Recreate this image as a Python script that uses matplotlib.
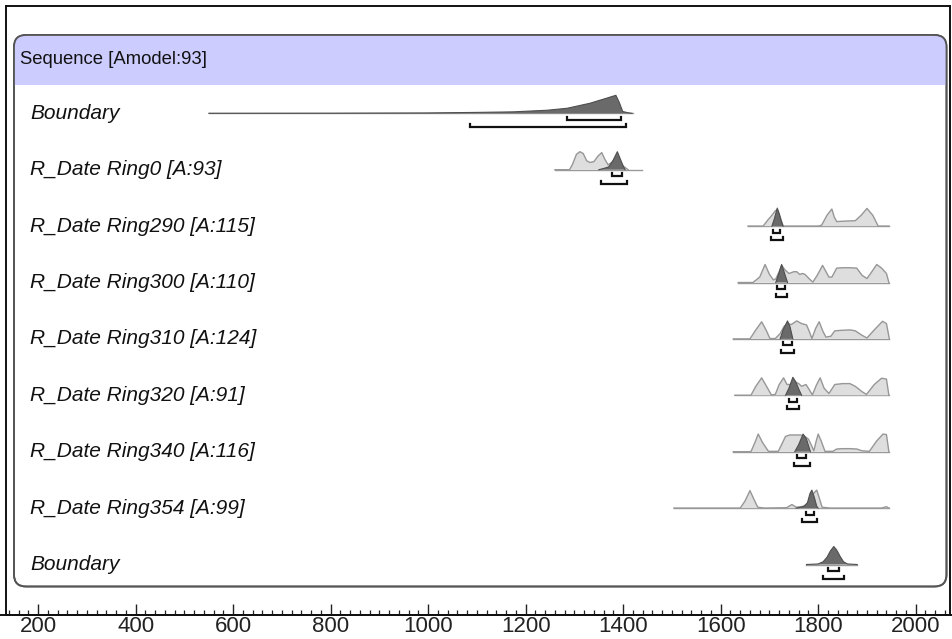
import matplotlib
matplotlib.use("Agg")
import matplotlib.pyplot as plt
from matplotlib.patches import FancyBboxPatch, Rectangle

# ---------------- data ----------------
header_text = "Sequence [Amodel:93]"
row_labels = ["Boundary", "R_Date Ring0 [A:93]", "R_Date Ring290 [A:115]",
              "R_Date Ring300 [A:110]", "R_Date Ring310 [A:124]",
              "R_Date Ring320 [A:91]", "R_Date Ring340 [A:116]",
              "R_Date Ring354 [A:99]", "Boundary"]

# baseline extents (years)
baseline_span = [(550, 1420), (1260, 1438), (1656, 1945), (1636, 1945),
                 (1626, 1946), (1629, 1945), (1626, 1945), (1504, 1945),
                 (1776, 1880)]

# light (unmodelled) distributions: years, relative heights
light_years = [
    None,
    [1260, 1290, 1296, 1304, 1311, 1318, 1325, 1332, 1340, 1348, 1356, 1362, 1369, 1376, 1385, 1393, 1400, 1410],
    [1656, 1687, 1697, 1705, 1712, 1716, 1722, 1728, 1800, 1807, 1818, 1828, 1833, 1838, 1856, 1876, 1888, 1900, 1912, 1923, 1945],
    [1636, 1666, 1680, 1691, 1700, 1708, 1713, 1720, 1725, 1732, 1740, 1750, 1756, 1762, 1768, 1773, 1780, 1789, 1798, 1809, 1816, 1822, 1828, 1838, 1850, 1865, 1879, 1890, 1900, 1910, 1920, 1930, 1940, 1945],
    [1626, 1660, 1672, 1684, 1693, 1701, 1712, 1722, 1730, 1737, 1745, 1756, 1766, 1776, 1782, 1787, 1795, 1802, 1810, 1816, 1826, 1834, 1850, 1865, 1876, 1890, 1900, 1915, 1932, 1940, 1946],
    [1629, 1662, 1672, 1684, 1694, 1704, 1712, 1720, 1729, 1736, 1742, 1752, 1760, 1766, 1775, 1782, 1788, 1796, 1804, 1812, 1822, 1834, 1850, 1865, 1876, 1890, 1899, 1915, 1930, 1940, 1945],
    [1626, 1662, 1670, 1677, 1686, 1698, 1718, 1725, 1733, 1742, 1752, 1762, 1770, 1780, 1787, 1791, 1796, 1800, 1806, 1814, 1830, 1838, 1850, 1865, 1879, 1890, 1905, 1920, 1933, 1940, 1945],
    [1504, 1640, 1650, 1660, 1668, 1676, 1690, 1735, 1746, 1755, 1770, 1780, 1790, 1797, 1803, 1808, 1825, 1930, 1940, 1945],
    None,
]
light_heights = [
    None,
    [0, 0, 0.3, 0.85, 1.0, 0.9, 0.5, 0.4, 0.45, 0.75, 0.95, 0.6, 0.27, 0.4, 0.65, 0.45, 0.2, 0],
    [0, 0, 0.35, 0.6, 0.85, 0.9, 0.5, 0, 0, 0.05, 0.6, 0.95, 0.5, 0.25, 0.28, 0.3, 0.6, 0.98, 0.6, 0, 0],
    [0, 0, 0.3, 1.0, 0.45, 0.15, 0.2, 0.6, 0.95, 0.7, 0.5, 0.6, 0.6, 0.45, 0.5, 0.45, 0.25, 0.02, 0.4, 0.95, 0.6, 0.3, 0.3, 0.8, 0.82, 0.82, 0.8, 0.4, 0.22, 0.6, 1.0, 0.8, 0.5, 0],
    [0, 0, 0.5, 0.95, 0.5, 0.02, 0.02, 0.3, 0.7, 0.85, 0.8, 1.0, 0.85, 0.78, 0.4, 0.02, 0.6, 0.95, 0.4, 0.1, 0.15, 0.45, 0.48, 0.5, 0.45, 0.2, 0.05, 0.5, 0.98, 0.85, 0],
    [0, 0, 0.5, 0.97, 0.5, 0.02, 0.05, 0.6, 0.97, 0.6, 0.6, 0.75, 0.65, 0.5, 0.6, 0.3, 0.02, 0.55, 0.97, 0.4, 0.1, 0.6, 0.65, 0.65, 0.5, 0.2, 0.05, 0.6, 0.95, 0.9, 0],
    [0, 0, 0.5, 0.98, 0.5, 0.02, 0.02, 0.4, 0.85, 0.93, 0.93, 0.93, 0.9, 0.7, 0.3, 0.05, 0.6, 0.98, 0.6, 0.02, 0.02, 0.15, 0.17, 0.17, 0.15, 0.05, 0.02, 0.6, 0.98, 0.95, 0],
    [0, 0, 0.4, 0.97, 0.5, 0.05, 0, 0.02, 0.2, 0.05, 0.1, 0.3, 0.8, 1.0, 0.5, 0.05, 0, 0, 0.08, 0],
    None,
]

# dark (modelled) distributions
dark_years = [
    [550, 800, 1000, 1100, 1174, 1244, 1285, 1297, 1332, 1366, 1385, 1392, 1399, 1410, 1418],
    [1350, 1360, 1370, 1378, 1388, 1394, 1400, 1404],
    [1705, 1710, 1716, 1720, 1724, 1728],
    [1713, 1718, 1725, 1730, 1737],
    [1722, 1728, 1737, 1742, 1748],
    [1733, 1740, 1748, 1754, 1760, 1766],
    [1752, 1760, 1769, 1776, 1784],
    [1755, 1765, 1772, 1778, 1783, 1787, 1792, 1797, 1800],
    [1776, 1800, 1810, 1818, 1825, 1832, 1838, 1845, 1852, 1860, 1880],
]
dark_heights = [
    [0, 0.005, 0.02, 0.05, 0.08, 0.17, 0.28, 0.35, 0.56, 0.84, 1.0, 0.6, 0.1, 0.03, 0],
    [0, 0.07, 0.15, 0.45, 1.0, 0.6, 0.2, 0],
    [0, 0.4, 1.0, 0.7, 0.3, 0],
    [0, 0.4, 1.0, 0.6, 0],
    [0, 0.5, 1.0, 0.7, 0],
    [0, 0.4, 1.0, 0.75, 0.35, 0],
    [0, 0.4, 0.98, 0.7, 0],
    [0, 0.05, 0.12, 0.3, 0.8, 1.0, 0.6, 0.1, 0],
    [0, 0.03, 0.15, 0.4, 0.75, 1.0, 0.8, 0.45, 0.15, 0.03, 0],
]

# highest posterior density ranges
range68 = [(1284, 1395), (1378, 1397), (1707, 1722), (1716, 1732), (1728, 1746),
           (1741, 1757), (1756, 1776), (1775, 1791), (1821, 1843)]
range95 = [(1086, 1406), (1354, 1407), (1703, 1728), (1713, 1737), (1723, 1750),
           (1737, 1761), (1751, 1783), (1766, 1797), (1809, 1853)]

major_ticks = [200, 400, 600, 800, 1000, 1200, 1400, 1600, 1800, 2000]

# ---------------- layout / style ----------------
W, H = 953, 639
PX_PER_YEAR = 0.4875
X200 = 38.2
def px2year(px):
    return 200 + (px - X200) / PX_PER_YEAR

AX_L, AX_R, AX_T, AX_B = 6, 950, 6, 615
ROW0, ROW_DY, UNIT = 113.3, 56.4, 18.0

LIGHT_FILL, LIGHT_EDGE = "#dedede", "#979797"
DARK_FILL, DARK_EDGE = "#6a6a6a", "#4e4e4e"

plt.rcParams["font.family"] = ["Liberation Sans", "DejaVu Sans"]

fig = plt.figure(figsize=(W / 100, H / 100), dpi=100)

# background axes in pixel coordinates
bg = fig.add_axes([0, 0, 1, 1], zorder=0)
bg.set_xlim(0, W)
bg.set_ylim(H, 0)
bg.axis("off")

box = FancyBboxPatch((14, 35), 946.5 - 14, 586.5 - 35,
                     boxstyle="round,pad=0,rounding_size=12",
                     facecolor="white", edgecolor="#555555", linewidth=1.3, zorder=1)
bg.add_patch(box)
band = Rectangle((14, 35), 946.5 - 14, 50, facecolor="#ccccff", edgecolor="none", zorder=1.5)
bg.add_patch(band)
band.set_clip_path(box)
box2 = FancyBboxPatch((14, 35), 946.5 - 14, 586.5 - 35,
                      boxstyle="round,pad=0,rounding_size=12",
                      facecolor="none", edgecolor="#555555", linewidth=1.3, zorder=2)
bg.add_patch(box2)

bg.text(20, 59, header_text, fontsize=13.3, va="center", ha="left", color="#111111", zorder=3)
for i, lab in enumerate(row_labels):
    bg.text(30, ROW0 + i * ROW_DY, lab, fontsize=15, style="italic",
            va="center", ha="left", color="#111111", zorder=3)

# main axes: x in years, y in pixels
ax = fig.add_axes([AX_L / W, (H - AX_B) / H, (AX_R - AX_L) / W, (AX_B - AX_T) / H], zorder=1)
ax.patch.set_alpha(0)
ax.set_xlim(px2year(AX_L), px2year(AX_R))
ax.set_ylim(AX_B, AX_T)

for i in range(len(row_labels)):
    y0 = ROW0 + i * ROW_DY
    a, b = baseline_span[i]
    ax.plot([a, b], [y0, y0], color="#999999", lw=1.0, zorder=2)
    if light_years[i] is not None:
        ys = [y0 - h * UNIT for h in light_heights[i]]
        ax.fill_between(light_years[i], y0, ys, facecolor=LIGHT_FILL, edgecolor="none", zorder=3)
        ax.plot(light_years[i], ys, color=LIGHT_EDGE, lw=1.0, zorder=4)
    ys = [y0 - h * UNIT for h in dark_heights[i]]
    ax.fill_between(dark_years[i], y0, ys, facecolor=DARK_FILL, edgecolor="none", zorder=5)
    ax.plot(dark_years[i], ys, color=DARK_EDGE, lw=0.8, zorder=6)
    for (lo, hi), off in ((range68[i], 6.5), (range95[i], 14.0)):
        yb = y0 + off
        ax.plot([lo, lo, hi, hi], [yb - 3, yb, yb, yb - 3], color="#111111",
                lw=1.6, solid_joinstyle="miter", zorder=7)

ax.set_yticks([])
ax.set_xticks(major_ticks)
ax.set_xticks(range(140, 2061, 20), minor=True)
ax.tick_params(axis="x", which="major", direction="in", length=8, width=1.0,
               color="#222222", pad=0.8, labelsize=16, labelcolor="#222222")
ax.tick_params(axis="x", which="minor", direction="in", length=3.6, width=0.9, color="#222222")
for s in ax.spines.values():
    s.set_color("#111111")
    s.set_linewidth(1.4)
bg.plot([0, W], [AX_B, AX_B], color="#111111", lw=1.4, zorder=0.5)

fig.savefig("out.png", dpi=100)
